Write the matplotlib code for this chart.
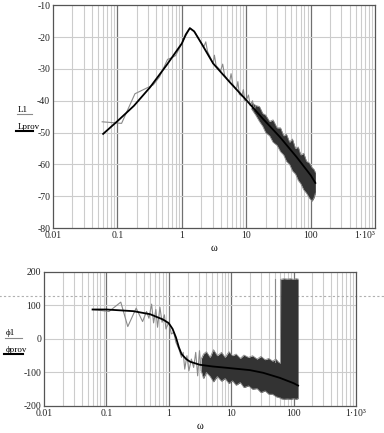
import matplotlib
matplotlib.use("Agg")
import matplotlib.pyplot as plt
from matplotlib.lines import Line2D

plt.rcParams["font.family"] = ["Liberation Serif", "DejaVu Serif"]

# ---- magnitude panel ----
w_Lprov = [0.06, 0.1, 0.18, 0.32, 0.58, 1.0, 1.15, 1.33, 1.55, 2.0, 3.06, 5.5,
           10, 18, 33, 60, 100, 118]
Lprov = [-50.4, -46.4, -41.6, -35.8, -28.8, -22.0, -19.2, -17.2, -18.2, -21.9,
         -28.3, -34.1, -39.8, -45.6, -51.3, -57.6, -63.4, -65.8]

w_L1 = [0.058, 0.116, 0.187, 0.36, 0.45, 0.6, 0.7, 0.8, 1.0, 1.33, 1.6, 2.0,
        2.2, 2.35, 2.5, 3.06, 3.2, 3.4, 4.0, 4.3, 4.6, 5.5, 5.8, 6.2, 7.0,
        7.4, 7.8, 8.5, 9.0, 9.5, 10, 10.8, 11.5, 12.5, 13.2, 14]
L1 = [-46.6, -47.1, -37.8, -35.0, -32.5, -27.0, -26.5, -25.8, -22.0, -17.2,
      -18.5, -21.9, -23.0, -21.5, -24.5, -28.3, -25.7, -29.0, -30.5, -28.5,
      -32.0, -34.1, -31.5, -35.0, -36.5, -34.0, -38.0, -38.5, -36.5, -40.0,
      -39.8, -38.2, -41.5, -40.0, -43.0, -41.5]

w_Lband = [12, 14, 16, 18, 20, 23, 26, 30, 34, 38, 42, 47, 52, 58, 64,
           70, 78, 86, 95, 105, 112, 118]
L1_hi = [-40.5, -41.5, -41.8, -44.0, -44.5, -46.5, -46.0, -48.5,
         -48.5, -51.0, -50.5, -53.0, -52.0, -55.0, -54.5, -57.0, -56.5, -59.0,
         -59.5, -61.0, -61.5, -62.5]
L1_lo = [-42.5, -44.5, -46.5, -48.0, -50.0, -51.0, -53.0, -54.0,
         -56.0, -57.0, -59.0, -60.0, -62.0, -63.0, -65.0, -66.0, -68.0, -69.0,
         -70.5, -71.5, -70.5, -69.0]

# ---- phase panel ----
w_phiprov = [0.06, 0.1, 0.27, 0.5, 0.81, 1.0, 1.15, 1.3, 1.45, 1.6, 1.9, 2.2,
             3.14, 5, 8.4, 20, 32.6, 60, 100, 118]
phiprov = [88, 88, 83, 74, 58, 47, 30, 5, -25, -45, -60, -68, -77, -82, -86,
           -93, -101, -116, -132, -139]

w_phi1 = [0.06, 0.11, 0.17, 0.22, 0.3, 0.38, 0.44, 0.48, 0.53, 0.57, 0.62,
          0.66, 0.72, 0.78, 0.85, 0.9, 1.0, 1.1, 1.2, 1.3, 1.45, 1.6, 1.7, 1.8,
          1.95, 2.1, 2.3, 2.5, 2.7, 2.9, 3.1, 3.3]
phi1 = [88, 82, 110, 37, 92, 52, 82, 62, 104, 48, 88, 35, 95, 50, 72, 30, 50,
        15, 20, -10, -30, -55, -40, -90, -50, -95, -60, -85, -40, -110, -35,
        -95]

w_phiband = [3.3, 3.6, 4.0, 4.6, 5.2, 6.0, 7.0, 8.0, 9.2, 10.5, 12, 14,
             16, 19, 22, 26, 30, 35, 40, 46, 52, 58, 61.5, 62, 70, 80, 90,
             100, 110, 118]
phi1_hi = [-60, -45, -38, -55, -32, -50, -40, -55, -38, -50, -45, -58,
           -48, -55, -50, -60, -52, -62, -58, -66, -60, -70, -72, 178, 180,
           179, 180, 178, 180, 179]
phi1_lo = [-95, -118, -100, -112, -128, -112, -126, -118, -133, -125,
           -138, -130, -145, -140, -150, -148, -160, -155, -165, -165, -172,
           -175, -176, -178, -180, -179, -180, -178, -180, -178]
w_spike = [50, 50]
phi_spike = [-70, 178]
phi_marker = 129

xticks = [0.01, 0.1, 1, 10, 100, 1000]
xlabels = ["0.01", "0.1", "1", "10", "100", "1·10³"]
minor = [m * d for d in (0.01, 0.1, 1, 10, 100) for m in range(2, 10)]

GRAY = "#8a8a8a"
BAND = "#333333"


def style_axes(ax, yticks):
    ax.set_xscale("log")
    ax.set_xlim(0.01, 1000)
    ax.set_xticks(xticks)
    ax.set_xticklabels(xlabels)
    ax.set_xticks([], minor=True)
    ax.set_yticks(yticks)
    ax.set_yticklabels([str(v) for v in yticks])
    for v in minor:
        ax.axvline(v, color="#cccccc", lw=0.8, zorder=0)
    for v in xticks[1:-1]:
        ax.axvline(v, color="#707070", lw=0.9, zorder=0)
    for v in yticks[1:-1]:
        ax.axhline(v, color="#cccccc", lw=0.8, zorder=0)
    ax.tick_params(length=0, labelsize=7, pad=2, colors="#222222")
    for s in ax.spines.values():
        s.set_color("#555555")
        s.set_linewidth(0.9)
    ax.set_xlabel("ω", fontsize=7.5, labelpad=3)


def main():
    fig = plt.figure(figsize=(3.84, 4.33), dpi=100)

    ax1 = fig.add_axes([0.138, 0.473, 0.839, 0.515])
    ax1.set_ylim(-80, -10)
    style_axes(ax1, list(range(-80, -9, 10)))
    ax1.get_xticklabels()[-1].set_horizontalalignment("right")
    ax1.fill_between(w_Lband, L1_lo, L1_hi, color=BAND, lw=0, zorder=2)
    ax1.plot(w_Lband, L1_hi, color=GRAY, lw=0.6, zorder=2)
    ax1.plot(w_Lband, L1_lo, color=GRAY, lw=0.6, zorder=2)
    ax1.plot(w_L1, L1, color=GRAY, lw=0.8, zorder=2)
    ax1.plot(w_Lprov, Lprov, color="black", lw=1.3, zorder=3)

    ax2 = fig.add_axes([0.1146, 0.0624, 0.8125, 0.3095])
    ax2.set_ylim(-200, 200)
    style_axes(ax2, [-200, -100, 0, 100, 200])
    ax2.fill_between(w_phiband, phi1_lo, phi1_hi, color=BAND, lw=0, zorder=2)
    ax2.plot(w_phiband, phi1_hi, color=GRAY, lw=0.6, zorder=2)
    ax2.plot(w_phiband, phi1_lo, color=GRAY, lw=0.6, zorder=2)
    ax2.plot(w_phi1, phi1, color=GRAY, lw=0.8, zorder=2)
    ax2.plot(w_spike, phi_spike, color=GRAY, lw=0.8, zorder=2)
    ax2.plot(w_phiprov, phiprov, color="black", lw=1.3, zorder=3)
    ax2.axhline(phi_marker, xmin=-0.145, xmax=1.1, color="#b0b0b0", lw=0.8,
                ls=(0, (2, 2)), clip_on=False, zorder=1)

    # legend-like y labels
    fig.text(0.046, 0.741, "L1", fontsize=6.5, ha="left", va="baseline")
    fig.add_artist(Line2D([0.044, 0.083], [0.736, 0.736], color=GRAY, lw=0.8))
    fig.text(0.046, 0.703, "Lprov", fontsize=6.5, ha="left", va="baseline")
    fig.add_artist(Line2D([0.042, 0.087], [0.698, 0.698], color="black", lw=1.5))

    fig.text(0.015, 0.226, "ϕ1", fontsize=6.5, ha="left", va="baseline")
    fig.add_artist(Line2D([0.013, 0.057], [0.220, 0.220], color=GRAY, lw=0.8))
    fig.text(0.015, 0.188, "ϕprov", fontsize=6.5, ha="left", va="baseline")
    fig.add_artist(Line2D([0.011, 0.06], [0.182, 0.182], color="black", lw=1.5))

    fig.savefig("out.png", dpi=100)
    plt.close(fig)


if __name__ == "__main__":
    main()
